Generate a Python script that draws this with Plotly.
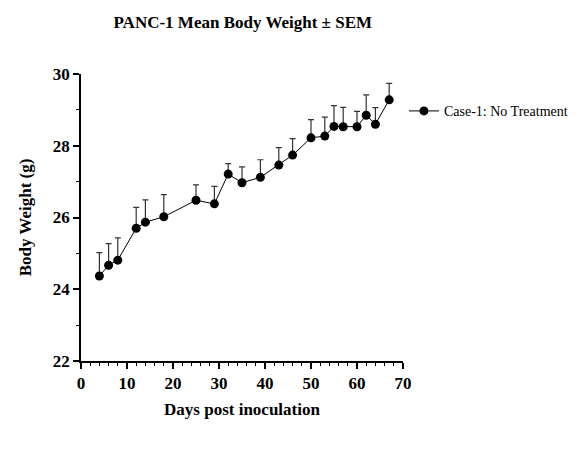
import plotly.graph_objects as go

days = [4, 6, 8, 12, 14, 18, 25, 29, 32, 35, 39, 43, 46, 50, 53, 55, 57, 60, 62, 64, 67]
mean_weight = [24.37, 24.67, 24.81, 25.70, 25.87, 26.02, 26.48, 26.38, 27.21, 26.97, 27.12,
               27.46, 27.74, 28.22, 28.27, 28.54, 28.53, 28.53, 28.85, 28.60, 29.28]
sem = [0.65, 0.60, 0.62, 0.58, 0.62, 0.62, 0.43, 0.49, 0.29, 0.44, 0.49,
       0.49, 0.46, 0.51, 0.53, 0.58, 0.54, 0.43, 0.57, 0.46, 0.46]
series_name = "Case-1: No Treatment"

serif = "Liberation Serif"

fig = go.Figure()
fig.add_trace(go.Scatter(
    x=days, y=mean_weight, mode="lines+markers", name=series_name,
    line=dict(color="black", width=1),
    marker=dict(color="black", size=9),
    error_y=dict(type="data", array=sem, arrayminus=[0] * len(sem), symmetric=False,
                 color="#333333", thickness=1.2, width=3),
))

axis_common = dict(
    showline=True, linecolor="black", linewidth=1.5, showgrid=False, zeroline=False,
    ticks="outside", ticklen=6, tickwidth=1.5, tickcolor="black", automargin=False,
    tickfont=dict(family=serif, size=17, color="black", weight="bold"),
)

# the page puts the plot 8px in from the top-left, so margins are shifted by that
fig.update_layout(
    width=584, height=451,
    margin=dict(l=73, r=189, t=66, b=98, autoexpand=False),
    plot_bgcolor="white", paper_bgcolor="white",
    font=dict(family=serif),
    title=dict(text="<b>PANC-1 Mean Body Weight ± SEM</b>", x=0.402, xanchor="center",
               y=0.969, yanchor="middle", yref="container",
               font=dict(family=serif, size=17, color="black")),
    xaxis=dict(range=[0, 70], tick0=0, dtick=10,
               minor=dict(dtick=2, ticks="outside", ticklen=3, tickwidth=1, tickcolor="black"),
               title=dict(text="<b>Days post inoculation</b>", standoff=11,
                          font=dict(family=serif, size=17, color="black")),
               **axis_common),
    yaxis=dict(range=[22, 30], tick0=22, dtick=2,
               minor=dict(dtick=1, ticks="outside", ticklen=3, tickwidth=1, tickcolor="black"),
               title=dict(text="<b>Body Weight (g)</b>", standoff=17,
                          font=dict(family=serif, size=17, color="black")),
               **axis_common),
    showlegend=True,
    legend=dict(x=1.003, xanchor="left", y=0.87, yanchor="middle",
                font=dict(family=serif, size=14, color="black"),
                bgcolor="rgba(0,0,0,0)"),
)

fig.write_html("out.html")
